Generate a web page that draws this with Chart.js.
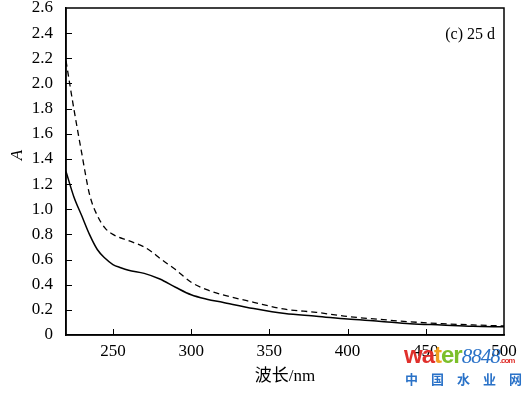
<!DOCTYPE html>
<html>
<head>
<meta charset="utf-8">
<script src="https://cdn.jsdelivr.net/npm/chart.js@4.4.1/dist/chart.umd.min.js"></script>
<style>
    html, body { margin: 0; padding: 0; background: #fff; }
    #wrap { position: relative; width: 532px; height: 393px; }
    .wm { position: absolute; white-space: nowrap; }
</style>
</head>
<body>
<div id="wrap">
    <canvas id="absChart" width="532" height="393"></canvas>
    <div class="wm" style="left:404px; top:341px; font:bold 24px 'Liberation Sans', Arial, sans-serif; letter-spacing:-1px;">
        <span style="color:#e0302c">wa</span><span style="color:#f0a020">t</span><span style="color:#7cbf2a">er</span><span style="color:#2a72c8; font:italic 21px 'Liberation Serif', serif;">8848</span><span style="color:#e0302c; font:bold 8px 'Liberation Sans', sans-serif;">.com</span>
    </div>
    <div class="wm" style="left:405px; top:369px; font:bold 13px 'Noto Sans CJK SC', sans-serif; color:#2a72c8; letter-spacing:13px;">中国水业网</div>
</div>
<script>
// wavelength (nm) and absorbance readings, day 25
const waveSolid = [220, 225, 230, 235, 240, 245, 250, 255, 260, 270, 280, 290, 300, 310, 320, 340, 360, 380, 400, 420, 440, 460, 480, 500];
const absSolid  = [1.30, 1.10, 0.95, 0.80, 0.68, 0.61, 0.56, 0.535, 0.515, 0.49, 0.445, 0.38, 0.32, 0.285, 0.26, 0.21, 0.17, 0.15, 0.127, 0.11, 0.09, 0.08, 0.07, 0.065];

const waveDashed = [220, 225, 230, 235, 240, 245, 250, 260, 270, 275, 280, 290, 300, 310, 320, 340, 360, 380, 400, 420, 440, 460, 480, 500];
const absDashed  = [2.18, 1.80, 1.45, 1.12, 0.95, 0.85, 0.80, 0.75, 0.70, 0.66, 0.61, 0.52, 0.42, 0.36, 0.32, 0.26, 0.205, 0.18, 0.147, 0.125, 0.105, 0.09, 0.08, 0.072];

const xTickValues = [250, 300, 350, 400, 450, 500];
const yTickValues = [0, 0.2, 0.4, 0.6, 0.8, 1.0, 1.2, 1.4, 1.6, 1.8, 2.0, 2.2, 2.4, 2.6];

const panelLabel = '(c) 25 d';
const yAxisLabel = 'A';

const toPoints = (xs, ys) => xs.map((x, i) => ({ x: x, y: ys[i] }));

// frame on top/right, inward tick marks, axis letter and the panel label
const framePlugin = {
    id: 'framePlugin',
    afterDraw(chart) {
        const { ctx, chartArea, scales } = chart;
        ctx.save();
        ctx.strokeStyle = '#000';
        ctx.lineWidth = 1.5;
        ctx.strokeRect(chartArea.left, chartArea.top, chartArea.right - chartArea.left, chartArea.bottom - chartArea.top);

        ctx.lineWidth = 1;
        xTickValues.forEach(v => {
            if (v >= 500) return;
            const px = Math.round(scales.x.getPixelForValue(v)) + 0.5;
            ctx.beginPath();
            ctx.moveTo(px, chartArea.bottom);
            ctx.lineTo(px, chartArea.bottom - 6);
            ctx.stroke();
        });
        yTickValues.forEach(v => {
            if (v <= 0 || v >= 2.6) return;
            const py = Math.round(scales.y.getPixelForValue(v)) + 0.5;
            ctx.beginPath();
            ctx.moveTo(chartArea.left, py);
            ctx.lineTo(chartArea.left + 6, py);
            ctx.stroke();
        });

        ctx.fillStyle = '#000';
        ctx.font = '16px "Liberation Serif", serif';
        ctx.textAlign = 'right';
        ctx.textBaseline = 'middle';
        ctx.fillText(panelLabel, chartArea.right - 9, chartArea.top + 27);

        // rotated italic A beside the y axis
        ctx.translate(18, 155);
        ctx.rotate(-Math.PI / 2);
        ctx.textAlign = 'center';
        ctx.font = 'italic 17px "Liberation Serif", serif';
        ctx.fillText(yAxisLabel, 0, 0);
        ctx.restore();
    }
};

const ctx = document.getElementById('absChart').getContext('2d');
const absChart = new Chart(ctx, {
    type: 'line',
    data: {
        datasets: [{
            label: 'solid',
            data: toPoints(waveSolid, absSolid),
            borderColor: '#000',
            borderWidth: 1.5,
            pointRadius: 0,
            tension: 0.4,
            cubicInterpolationMode: 'monotone',
            fill: false
        }, {
            label: 'dashed',
            data: toPoints(waveDashed, absDashed),
            borderColor: '#000',
            borderWidth: 1.3,
            borderDash: [6, 4],
            pointRadius: 0,
            tension: 0.4,
            cubicInterpolationMode: 'monotone',
            fill: false
        }]
    },
    options: {
        responsive: false,
        animation: false,
        layout: {
            padding: { top: 8, right: 28, left: 0, bottom: 0 }
        },
        plugins: {
            legend: { display: false },
            tooltip: { enabled: false }
        },
        scales: {
            x: {
                type: 'linear',
                min: 220,
                max: 500,
                afterBuildTicks: scale => {
                    scale.ticks = xTickValues.map(v => ({ value: v }));
                },
                afterFit: scale => { scale.height = 58; },
                grid: { display: false, drawTicks: false },
                border: { display: true, color: '#000', width: 1.5 },
                ticks: {
                    padding: 6,
                    color: '#000',
                    maxRotation: 0,
                    font: { family: '"Liberation Serif", serif', size: 17 }
                },
                title: {
                    display: true,
                    text: '波长/nm',
                    color: '#000',
                    padding: { top: 0, bottom: 6 },
                    font: { family: '"Liberation Serif", "Noto Sans CJK SC", serif', size: 17 }
                }
            },
            y: {
                min: 0,
                max: 2.6,
                afterBuildTicks: scale => {
                    scale.ticks = yTickValues.map(v => ({ value: v }));
                },
                afterFit: scale => {
                    scale.width = 66;
                    // let the top label overhang the page edge like the original
                    scale.paddingTop = 0;
                    scale.paddingBottom = 0;
                },
                grid: { display: false, drawTicks: false },
                border: { display: true, color: '#000', width: 1.5 },
                ticks: {
                    padding: 13,
                    color: '#000',
                    font: { family: '"Liberation Serif", serif', size: 17 },
                    callback: v => v === 0 ? '0' : v.toFixed(1)
                }
            }
        }
    },
    plugins: [framePlugin]
});
</script>
</body>
</html>
